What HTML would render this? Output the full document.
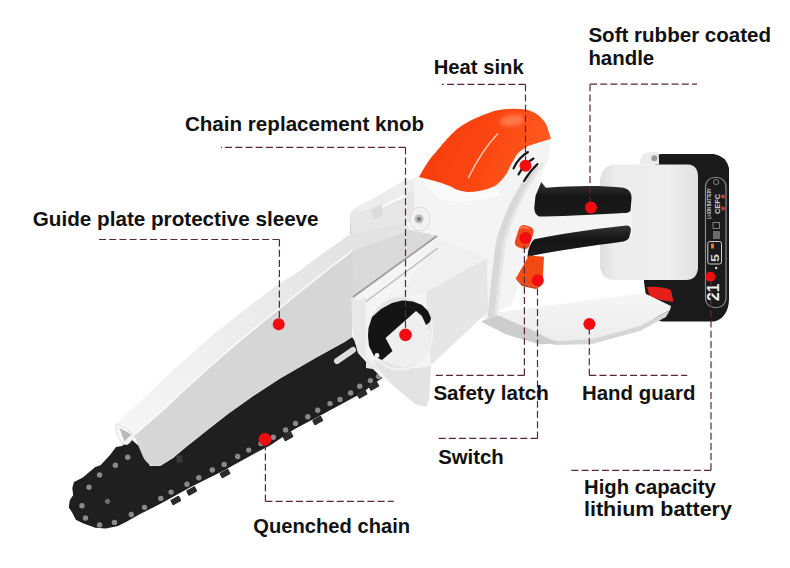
<!DOCTYPE html>
<html><head><meta charset="utf-8"><style>
html,body{margin:0;padding:0;background:#fff;}
body{width:790px;height:568px;overflow:hidden;}
svg{display:block;}
.t{font-family:"Liberation Sans",sans-serif;font-weight:bold;font-size:20.5px;fill:#111;}
.d{stroke:#5a2832;stroke-width:1.2;stroke-dasharray:7 3.2;fill:none;}
.r{fill:#f20c12;}
</style></head><body>
<svg width="790" height="568" viewBox="0 0 790 568">
<defs>
<linearGradient id="gOr" x1="0" y1="0" x2="1" y2="0.3">
<stop offset="0" stop-color="#f23a0a"/><stop offset="0.6" stop-color="#fc4612"/><stop offset="1" stop-color="#ff5a20"/>
</linearGradient>
<linearGradient id="gGrip" x1="0" y1="0" x2="0" y2="1">
<stop offset="0" stop-color="#333"/><stop offset="0.45" stop-color="#141414"/><stop offset="1" stop-color="#1c1c1c"/>
</linearGradient>
<linearGradient id="gCap" x1="0" y1="0" x2="1" y2="0">
<stop offset="0" stop-color="#dedede"/><stop offset="0.15" stop-color="#ececec"/><stop offset="0.7" stop-color="#efefef"/><stop offset="1" stop-color="#e0e0e0"/>
</linearGradient>
<linearGradient id="gGuard" x1="0" y1="0" x2="0" y2="1">
<stop offset="0" stop-color="#f6f6f6"/><stop offset="1" stop-color="#ececec"/>
</linearGradient>
<linearGradient id="gTop" gradientUnits="userSpaceOnUse" x1="120" y1="424" x2="350" y2="240">
<stop offset="0" stop-color="#f6f6f6"/><stop offset="0.5" stop-color="#ededed"/><stop offset="1" stop-color="#e3e3e3"/>
</linearGradient>
<filter id="blur2" x="-50%" y="-50%" width="200%" height="200%"><feGaussianBlur stdDeviation="2.2"/></filter>
</defs>
<rect width="790" height="568" fill="#fff"/>

<!-- ===== battery ===== -->
<path d="M656,157 Q657,154 662,154 L714,154 Q726,156 729,168 L729,300 Q728,318 714,321.5 L662,321.5 Q652,320 648,310 L644,282 L644,250 Z" fill="#1a1a1a"/>
<rect x="705.5" y="177.5" width="20.5" height="130" rx="9" fill="none" stroke="#8a8a8a" stroke-width="1.2"/>
<g fill="#d8d8d8" font-family="Liberation Sans, sans-serif" font-weight="bold">
<text transform="translate(711,219) rotate(-90)" font-size="4.6" textLength="31" lengthAdjust="spacingAndGlyphs">LI-ION BATTERY</text>
<text transform="translate(719.5,214) rotate(-90)" font-size="7.5" textLength="20" lengthAdjust="spacingAndGlyphs">CEFC</text>
<text transform="translate(718.8,301) rotate(-90)" font-size="16.5" textLength="17.5" lengthAdjust="spacingAndGlyphs" fill="#f2f2f2">21</text>
<text transform="translate(719,262) rotate(-90)" font-size="11" textLength="8" lengthAdjust="spacingAndGlyphs">5</text>
</g>
<circle cx="716.2" cy="182" r="2.6" fill="none" stroke="#9a9a9a" stroke-width="0.8"/>
<circle cx="723" cy="196.5" r="2" fill="#c04040"/><circle cx="723" cy="208.4" r="2" fill="#c04040"/>
<rect x="713" y="222.5" width="6.5" height="6" fill="none" stroke="#9a9a9a" stroke-width="0.8"/>
<g stroke="#d0d0d0" stroke-width="0.9"><path d="M713,232 h7 M713,234 h7 M713,236 h7 M713,238 h7"/></g>
<rect x="707.8" y="241.5" width="13.7" height="22.5" rx="2" fill="none" stroke="#d0d0d0" stroke-width="1"/>
<rect x="711" y="243.5" width="3" height="5" fill="#e07b2a"/>
<circle cx="716.2" cy="268" r="1.2" fill="#ddd"/>
<path d="M647,287 Q660,286 671,290 L673.5,302 Q662,301 650,297 Z" fill="#e61e1a"/>
<!-- battery white cap -->
<path d="M616,164.5 L688,164.5 Q698,165 698,177 L698,268 Q697,280 686,280 L613,280 Q601,279 600,266 L600,181 Q601,165 616,164.5 Z" fill="url(#gCap)"/>
<path d="M640,164.5 Q640,152 650,152 L656,152 Q659,153 659,158 L659,164.5 Z" fill="#ececec"/>
<circle cx="654.3" cy="158.2" r="3" fill="#9a9a9a"/>

<!-- ===== handle housing ===== -->
<path d="M534,200 L632,196 L632,236 L530,250 Z" fill="#f4f4f4"/>
<!-- ===== hand guard ===== -->
<path d="M483,317 L496,312.5 L644,293 L671,306 L670,310 L640,326 L592,339 L559,341 L520,333 Z" fill="url(#gGuard)"/>
<path d="M483,317 L520,333 L559,341 L592,339 L640,326 L670,310 L666,317 L640,331 L592,344 L556,345 L515,337 Z" fill="#d6d6d6"/>
<path d="M481,321.5 L497,315 L530,329 L557,343 L540,344.5 L505,334 Z" fill="#cdcdcd"/>

<!-- ===== black bar ===== -->
<path d="M150,466 L160,466 L173,458 L186,447 L210,428 L228.2,413.7 L256.3,393.9 L280,378.5 L316.3,357.6 L344.5,342 L352,337 L369,360 L384,377 L377,381.4 L362,392.9 L344,402.8 L319.4,416 L294.7,429.1 L270,445.6 L255,453.3 L223.4,470.7 L191.7,486.6 L160,504 L139.2,514.5 L126.9,521.5 L118,526 L105.8,528.5 L95.2,527.7 L82.9,523.3 L75.8,519.7 L72.3,512.7 L68.8,507.4 L69.7,500.4 L73.2,495 L72.3,488 L74,482 L82.9,477.5 L95.2,467 L100.5,465.2 L110,455 L116,447 L122,446 L130.4,438.8 L140,447 Z" fill="#1f1f1f"/>
<g fill="#2c2c2c"><rect x="170.8" y="497.5" width="10" height="6" rx="1.2" transform="rotate(-28.8 175.8 500.5)"/><rect x="186.7" y="488" width="10" height="6" rx="1.2" transform="rotate(-28.8 191.7 491)"/><rect x="220" y="470.5" width="10" height="6" rx="1.2" transform="rotate(-28.8 225 473.5)"/><rect x="283" y="433.5" width="10" height="6" rx="1.2" transform="rotate(-28.8 288 436.5)"/><rect x="312.7" y="417.5" width="10" height="6" rx="1.2" transform="rotate(-28.8 317.7 420.5)"/><rect x="357" y="391" width="10" height="6" rx="1.2" transform="rotate(-28.8 362 394)"/><rect x="368.7" y="383" width="10" height="6" rx="1.2" transform="rotate(-28.8 373.7 386)"/></g>
<g fill="#8a8a8a"><circle cx="127.7" cy="457.3" r="2.7"/><circle cx="115.4" cy="465.2" r="2.7"/><circle cx="99.6" cy="474.9" r="2.7"/><circle cx="89" cy="487.2" r="2.7"/><circle cx="82" cy="505.7" r="2.7"/><circle cx="85.5" cy="518" r="2.7"/><circle cx="99.6" cy="525" r="2.7"/><circle cx="114.5" cy="522.4" r="2.7"/><circle cx="131.3" cy="514.5" r="2.7"/><circle cx="144.5" cy="507.4" r="2.7"/><circle cx="160.8" cy="498.4" r="2.7"/><circle cx="171.1" cy="492.1" r="2.7"/><circle cx="187" cy="484.2" r="2.7"/><circle cx="198.8" cy="477.8" r="2.7"/><circle cx="212.3" cy="470" r="2.7"/><circle cx="224.2" cy="464.4" r="2.7"/><circle cx="237.7" cy="456.5" r="2.7"/><circle cx="248.7" cy="450.1" r="2.7"/><circle cx="261" cy="443.5" r="2.7"/><circle cx="273.3" cy="437.3" r="2.7"/><circle cx="285.6" cy="430" r="2.7"/><circle cx="295.5" cy="423.4" r="2.7"/><circle cx="307.8" cy="416.8" r="2.7"/><circle cx="317.7" cy="410.2" r="2.7"/><circle cx="330" cy="403.6" r="2.7"/><circle cx="340" cy="399.5" r="2.7"/><circle cx="350.6" cy="392.9" r="2.7"/><circle cx="359.7" cy="386.3" r="2.7"/><circle cx="370.4" cy="380.6" r="2.7"/><circle cx="378.6" cy="376.5" r="2.7"/></g>
<circle cx="107.5" cy="501.3" r="2.6" fill="#6d6d6d"/>
<path d="M176,456 L182,455 L183,462 L177,463 Z" fill="#3a3a3a"/>
<path d="M337,361 L353,350" stroke="#dedede" stroke-width="6" stroke-linecap="round"/>

<!-- ===== body ===== -->
<path d="M352,212 L413,178 L419,176 L467,192 L495,186 L507,173 L516,156 L528,146 L551,140 L548,160 L540,180 L535,196 L534,220 L528,255 L520,280 L512,305 L484,317 L479,320 L431,365 L429,400 L426,407 L415,404 L394,386 L381,377 L367,363 L358,353 L353,335 L350,300 L351,232 Z" fill="#f4f4f4"/>
<path d="M420,178 Q445,186 467,193 Q482,192 495,187 L500,195 Q470,205 440,200 Z" fill="#fafafa"/>
<path d="M426,292 L487,258 L488,312 L479,320 L431,365 L428,330 Z" fill="#e6e6e6"/>
<path d="M437,238 L487,258 L426,292 L398,300 Z" fill="#f0f0f0"/>
<path d="M538,166 Q508,205 499,245 Q494,285 491,318" stroke="#d8d8d8" stroke-width="7" fill="none"/>
<path d="M543,163 Q513,205 504,245 Q499,285 496,316" stroke="#e6e6e6" stroke-width="3" fill="none"/>
<path d="M372,360 Q380,372 394,386 L415,404 L426,407 L429,400 L431,366 Q410,372 372,360 Z" fill="#e3e3e3"/>

<!-- ===== sleeve ===== -->
<path d="M134,435.3 L163,410 L184,390 L226,352.3 L260,324 L329,268.5 L352,251 L410,230 L437,236 L353,298 L352,337 L344.5,342 L316.3,357.6 L280,378.5 L256.3,393.9 L228.2,413.7 L210,428 L186,447 L173,458 L160.6,465.7 L151.8,465.7 Q146,463 143,456.8 Z" fill="#d6d6d6"/>
<path d="M352,251 L410,230 L437,236 L353,298 Z" fill="#dadada"/>
<path d="M116.3,423.9 L170,373 L184.6,360 L212,335.4 L250,305.5 L274.7,287 L299.3,271 L324,252.5 L352,233 L405,221 L410,230 L352,251 L329,268.5 L260,324 L226,352.3 L184,390 L163,410 L134,435.3 Z" fill="url(#gTop)"/>
<path d="M134,435.3 L163,410 L184,390 L226,352.3 L260,324 L329,268.5 L352,251" stroke="#fcfcfc" stroke-width="1.5" fill="none"/>
<path d="M116.3,423.9 Q113.5,434 123,443.8 Q128,446.5 131.5,440.5 L134.5,435.5 Q127,427 116.3,423.9 Z" fill="#f6f6f6" stroke="#d0d0d0" stroke-width="0.6"/>
<path d="M119.5,428 L131.5,434.5 L124.5,441.5 Z" fill="#b9b9b9"/>
<!-- tab -->
<path d="M350,214 L354,209 L406,180 L414,181 L414,221 L351,234 Z" fill="#e7e7e7"/>
<path d="M354,209 L406,180 L414,181 L414,190 L360,213 Z" fill="#ededed"/>
<path d="M372.5,211 L406,195" stroke="#fafafa" stroke-width="2.5"/>
<path d="M372,209 L382,204 L383,216 L373,220 Z" fill="#dcdcdc"/>
<path d="M350,214 L351.5,234 L350,234 Z" fill="#d0d0d0"/>
<!-- screw boss -->
<ellipse cx="420" cy="219" rx="10" ry="12" fill="#f2f2f2" stroke="#dcdcdc" stroke-width="1"/>
<circle cx="419" cy="219" r="4.5" fill="#bdbdbd"/><circle cx="419" cy="219" r="2" fill="#777"/>
<!-- groove lines -->
<path d="M353,297 L437,236" stroke="#9a9a9a" stroke-width="1.6"/>
<path d="M360,306 L438,248" stroke="#bcbcbc" stroke-width="1.4"/>

<!-- ===== knob ===== -->
<path d="M351,298 L360,300 L366,297 L366,368 L379,370 L369,360 L358,352 L353,335 Z" fill="#e9e9e9"/>
<ellipse cx="400" cy="333" rx="33.5" ry="37.5" fill="#f3f3f3"/>
<ellipse cx="400" cy="333" rx="31.5" ry="36" fill="#e4e4e4"/>
<path d="M416,311 L426,325 L431,332 L430,350 L421,362 L405,368 L390,364 L382,360 L392.5,351 L385.5,338 Z" fill="#efefef"/>
<path d="M368.5,328 L372,317 L381,309 L392,303 L402,300.5 L413,301.5 L422,305 L428,311 L431,318 L430,322 L426,325 L422,316 L416,311 L385.5,338 L392.5,351 L382,360 L374,356 L369,346 L368,336 Z" fill="#141414"/>
<circle cx="377" cy="355.5" r="2.4" fill="#f5f5f5"/>

<!-- ===== orange cap ===== -->
<path d="M419,177 Q428,160 436,152 Q447,138 457,129 Q470,119 494,111 Q512,107 528,110 Q541,114 547,126 L551,139 Q540,142 528,146 Q518,152 516,156 Q510,166 507,173 Q500,183 495,186 Q482,192 467,192 Q455,190 452,187 Q440,182 431,180 Z" fill="url(#gOr)"/>
<ellipse cx="512" cy="120.5" rx="12" ry="5.5" transform="rotate(-8 512 120.5)" fill="#ff8a60" opacity="0.75" filter="url(#blur2)"/>
<path d="M468.5,177.5 Q482,150 497.5,134" stroke="#ffc8a8" stroke-width="1.6" fill="none" stroke-linecap="round"/>
<g stroke="#161616" stroke-width="2.1" fill="none" stroke-linecap="round">
<path d="M513.5,168.5 Q518,158 528,152"/><path d="M518.5,174.5 Q524,164 533.5,158.5"/><path d="M524,181 Q530,171 537.5,164"/>
</g>

<!-- ===== grips ===== -->
<path d="M535.5,195.8 L541.2,182 L545.8,187.8 C570,186 600,185 623.6,187.8 Q632,190 631.6,198 L630.5,210.7 Q629,213 623.6,213 C600,214 560,217 538.9,216.4 Q534,214 534.3,207.2 Z" fill="url(#gGrip)"/>
<path d="M534.3,239.3 C568.7,232.4 603,227.8 627,225.5 Q632,226 630.5,232.4 L629,238 Q627,241 623.6,241.6 C591.6,246 557.2,250.7 534.3,255.3 L527.5,257.6 Q528,245 534.3,239.3 Z" fill="url(#gGrip)"/>
<!-- latch & switch -->
<rect x="516.7" y="225.5" width="15" height="23" rx="5" fill="#f0461a" transform="rotate(18 524.2 237)"/>
<path d="M520,228 Q525,226 529,229" stroke="#ff8a5a" stroke-width="1.3" fill="none"/>
<path d="M529,255.4 L544,256.7 L542.7,281.3 L536.5,287.4 L523,283.7 L515.6,278.8 Z" fill="#f24a12"/>
<path d="M515.6,278.8 L523,283.7 L536.5,287.4 L542.7,281.3 L541,286 L536,289 L522,286 Z" fill="#c83a10"/>

<!-- ===== dashed leader lines ===== -->
<path class="d" d="M525.5,84.4 H442 M525.5,84.4 V160"/>
<path class="d" d="M590,84.2 H697 M590,84.2 V202"/>
<path class="d" d="M405.5,147.3 H221 M405.5,147.3 V330"/>
<path class="d" d="M279.4,239.5 H96.8 M279.4,239.5 V320"/>
<path class="d" d="M524.4,375.4 H434 M524.4,375.4 V243"/>
<path class="d" d="M537.5,438.4 V285 M537.5,438.4 H438.2"/>
<path class="d" d="M589.3,375.4 H687.3 M589.3,375.4 V329"/>
<path class="d" d="M711,470.3 V281 M711,470.3 H569.9"/>
<path class="d" d="M265.4,501.4 V444 M265.4,501.4 H393.8"/>

<!-- ===== red dots ===== -->
<circle class="r" cx="525.5" cy="165.8" r="6"/>
<circle class="r" cx="591" cy="207.6" r="6"/>
<circle class="r" cx="405.5" cy="334.9" r="6.3"/>
<circle class="r" cx="278.7" cy="324.3" r="6"/>
<circle class="r" cx="525.5" cy="238" r="6"/>
<circle class="r" cx="537.8" cy="280.3" r="6"/>
<circle class="r" cx="589.4" cy="324" r="6"/>
<circle class="r" cx="710.4" cy="276.7" r="5"/>
<circle class="r" cx="265" cy="439.3" r="6.3"/>

<!-- ===== labels ===== -->
<text class="t" x="433.7" y="73.7" textLength="90" lengthAdjust="spacingAndGlyphs">Heat sink</text>
<text class="t" x="588.4" y="41.6" textLength="182.7" lengthAdjust="spacingAndGlyphs">Soft rubber coated</text>
<text class="t" x="588.4" y="65.1" textLength="65.8" lengthAdjust="spacingAndGlyphs">handle</text>
<text class="t" x="184.9" y="131.3" textLength="239.3" lengthAdjust="spacingAndGlyphs">Chain replacement knob</text>
<text class="t" x="32.8" y="226.4" textLength="285.8" lengthAdjust="spacingAndGlyphs">Guide plate protective sleeve</text>
<text class="t" x="433.4" y="400.4" textLength="115.4" lengthAdjust="spacingAndGlyphs">Safety latch</text>
<text class="t" x="582" y="400.4" textLength="113.4" lengthAdjust="spacingAndGlyphs">Hand guard</text>
<text class="t" x="438.2" y="464.4" textLength="65.6" lengthAdjust="spacingAndGlyphs">Switch</text>
<text class="t" x="584" y="493.5" textLength="131.7" lengthAdjust="spacingAndGlyphs">High capacity</text>
<text class="t" x="584" y="516" textLength="147.9" lengthAdjust="spacingAndGlyphs">lithium battery</text>
<text class="t" x="253.3" y="533.2" textLength="156.8" lengthAdjust="spacingAndGlyphs">Quenched chain</text>
</svg>
</body></html>
